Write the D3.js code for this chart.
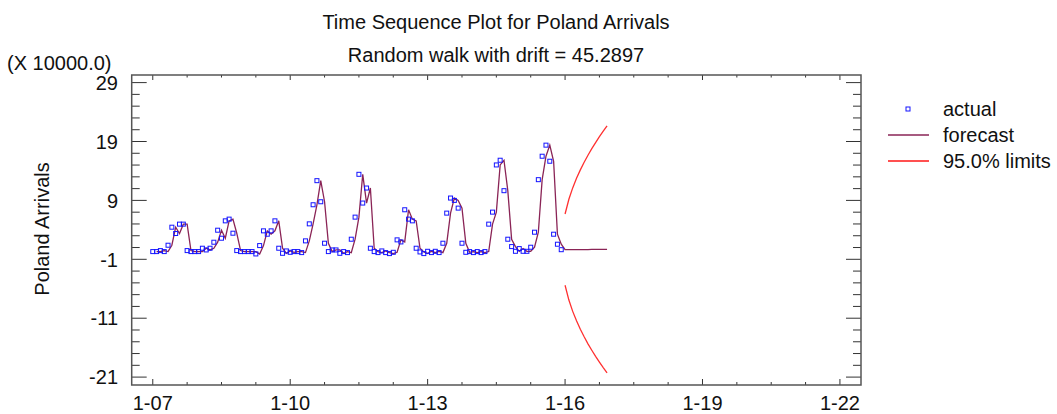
<!DOCTYPE html>
<html>
<head>
<meta charset="utf-8">
<script src="https://cdn.jsdelivr.net/npm/d3@7"></script>
<style>
  body { margin: 0; background: #fff; }
  text { font-family: "Liberation Sans", Arial, sans-serif; fill: #111; }
</style>
</head>
<body>
<div id="chart"></div>
<script>
// monthly values (x 10000), Jan 2007 - Dec 2015
var actual = [
  0.31, 0.31, 0.48, 0.31, 1.39, 4.45, 3.38, 4.97, 4.97, 0.48, 0.31, 0.31,
  0.31, 0.88, 0.59, 0.88, 1.90, 3.94, 2.58, 5.53, 5.82, 3.43, 0.48, 0.31,
  0.31, 0.31, 0.31, -0.09, 1.33, 3.83, 3.26, 3.83, 5.53, 0.88, 0.02, 0.42,
  0.19, 0.31, 0.31, 0.14, 2.13, 5.02, 8.26, 12.35, 8.77, 1.73, 0.31, 0.59,
  0.59, 0.02, 0.31, 0.14, 2.41, 6.16, 13.43, 8.55, 11.10, 0.88, 0.31, 0.14,
  0.42, 0.14, -0.03, 0.19, 2.30, 1.95, 7.41, 5.82, 5.53, 0.88, 0.25, -0.03,
  0.36, 0.14, 0.36, 0.14, 1.73, 6.84, 9.40, 9.00, 7.69, 1.73, 0.19, 0.31,
  0.14, 0.31, 0.14, 0.31, 4.97, 7.01, 15.02, 15.82, 10.65, 2.41, 1.16, 0.36,
  0.82, 0.36, 0.36, 1.05, 3.60, 12.52, 16.50, 18.38, 15.65, 3.26, 1.56, 0.63
];
// one-step forecasts, Feb 2007 - Dec 2016
var forecast = [
  0.31, 0.31, 0.48, 0.31, 1.39, 4.45, 3.38, 4.97, 4.97, 0.48, 0.31,
  0.31, 0.31, 0.88, 0.59, 0.88, 1.90, 3.94, 2.58, 5.53, 5.82, 3.43, 0.48, 0.31,
  0.31, 0.31, 0.31, -0.09, 1.33, 3.83, 3.26, 3.83, 5.53, 0.88, 0.02, 0.42,
  0.19, 0.31, 0.31, 0.14, 2.13, 5.02, 8.26, 12.35, 8.77, 1.73, 0.31, 0.59,
  0.59, 0.02, 0.31, 0.14, 2.41, 6.16, 13.43, 8.55, 11.10, 0.88, 0.31, 0.14,
  0.42, 0.14, -0.03, 0.19, 2.30, 1.95, 7.41, 5.82, 5.53, 0.88, 0.25, -0.03,
  0.36, 0.14, 0.36, 0.14, 1.73, 6.84, 9.40, 9.00, 7.69, 1.73, 0.19, 0.31,
  0.14, 0.31, 0.14, 0.31, 4.97, 7.01, 15.02, 15.82, 10.65, 2.41, 1.16, 0.36,
  0.82, 0.36, 0.36, 1.05, 3.60, 12.52, 16.50, 18.38, 15.65, 3.26, 1.56,
  0.63, 0.64, 0.64, 0.65, 0.65, 0.66, 0.66, 0.67, 0.67, 0.68, 0.68, 0.68
];
// 95% limits, Jan 2016 - Dec 2016
var upper = [6.69, 9.20, 11.12, 12.75, 14.18, 15.48, 16.67, 17.78, 18.82, 19.81, 20.75, 21.65];
var lower = [-5.41, -7.92, -9.84, -11.45, -12.88, -14.16, -15.35, -16.44, -17.48, -18.45, -19.39, -20.27];

var yTicks = [29, 19, 9, -1, -11, -21];
var xTickYears = [2007, 2010, 2013, 2016, 2019, 2022];
var xTickLabels = ["1-07", "1-10", "1-13", "1-16", "1-19", "1-22"];

var startYear = 2007;
function monthX(i) { return startYear + i / 12; }

var W = 1057, H = 414;
var plot = {left: 131.7, right: 861, top: 75, bottom: 385};

var svg = d3.select("#chart").append("svg")
    .attr("width", W).attr("height", H);

var x = d3.scaleLinear().domain([2006.54, 2022.46]).range([plot.left, plot.right]);
var y = d3.scaleLinear().domain([-22.34, 30.29]).range([plot.bottom, plot.top]);

var fs = 20;

// titles
svg.append("text").attr("x", 496).attr("y", 29).attr("text-anchor", "middle")
    .style("font-size", fs + "px").text("Time Sequence Plot for Poland Arrivals");
svg.append("text").attr("x", 496).attr("y", 62).attr("text-anchor", "middle")
    .style("font-size", fs + "px").text("Random walk with drift = 45.2897");
svg.append("text").attr("x", 7).attr("y", 70)
    .style("font-size", fs + "px").text("(X 10000.0)");
svg.append("text")
    .attr("transform", "translate(49," + 229 + ") rotate(-90)")
    .attr("text-anchor", "middle")
    .style("font-size", fs + "px").text("Poland Arrivals");

// ticks (inside, on all four sides)
var yMinor = d3.range(-21, 30, 2).filter(d => yTicks.indexOf(d) < 0);
var xMinor = d3.range(2007, 2022.01, 0.75).filter(d => xTickYears.indexOf(d) < 0);
var tickG = svg.append("g").attr("stroke", "#333").attr("stroke-width", 1);

function yTick(v, len) {
  tickG.append("line").attr("x1", plot.left).attr("x2", plot.left + len)
      .attr("y1", y(v)).attr("y2", y(v));
  tickG.append("line").attr("x1", plot.right).attr("x2", plot.right - len)
      .attr("y1", y(v)).attr("y2", y(v));
}
function xTick(v, lenB, lenT) {
  tickG.append("line").attr("x1", x(v)).attr("x2", x(v))
      .attr("y1", plot.bottom).attr("y2", plot.bottom - lenB);
  tickG.append("line").attr("x1", x(v)).attr("x2", x(v))
      .attr("y1", plot.top).attr("y2", plot.top + lenT);
}
yTicks.forEach(v => yTick(v, 15));
yMinor.forEach(v => yTick(v, 8));
xTickYears.forEach(v => xTick(v, 6, 5));
xMinor.forEach(v => xTick(v, 3, 2.5));

// tick labels
svg.append("g").selectAll("text").data(yTicks).join("text")
    .attr("x", 118).attr("y", d => y(d)).attr("dy", "0.36em")
    .attr("text-anchor", "end").style("font-size", fs + "px")
    .text(d => d);
svg.append("g").selectAll("text").data(xTickYears).join("text")
    .attr("x", d => x(d)).attr("y", 410)
    .attr("text-anchor", "middle").style("font-size", fs + "px")
    .text((d, i) => xTickLabels[i]);

// frame
svg.append("rect")
    .attr("x", plot.left).attr("y", plot.top)
    .attr("width", plot.right - plot.left).attr("height", plot.bottom - plot.top)
    .attr("fill", "none").attr("stroke", "#555").attr("stroke-width", 1.5);

// forecast line
var line = d3.line().x(d => x(d.t)).y(d => y(d.v));
var fData = forecast.map((v, i) => ({t: monthX(i + 1), v: v}));
svg.append("path").datum(fData)
    .attr("fill", "none").attr("stroke", "#8a2456").attr("stroke-width", 1.3)
    .attr("d", line);

// limits
var limStart = actual.length;
[upper, lower].forEach(arr => {
  svg.append("path").datum(arr.map((v, i) => ({t: monthX(limStart + i), v: v})))
      .attr("fill", "none").attr("stroke", "#ff3030").attr("stroke-width", 1.3)
      .attr("d", line);
});

// actual points
svg.append("g").selectAll("rect").data(actual).join("rect")
    .attr("x", (d, i) => x(monthX(i)) - 2).attr("y", d => y(d) - 2)
    .attr("width", 4).attr("height", 4)
    .attr("fill", "none").attr("stroke", "#1414ff").attr("stroke-width", 1);

// legend
var lg = svg.append("g");
lg.append("rect").attr("x", 906).attr("y", 107).attr("width", 4).attr("height", 4)
    .attr("fill", "none").attr("stroke", "#1414ff").attr("stroke-width", 1);
lg.append("line").attr("x1", 888).attr("x2", 929).attr("y1", 135).attr("y2", 135)
    .attr("stroke", "#8a2456").attr("stroke-width", 1.3);
lg.append("line").attr("x1", 888).attr("x2", 929).attr("y1", 161).attr("y2", 161)
    .attr("stroke", "#ff5050").attr("stroke-width", 2);
["actual", "forecast", "95.0% limits"].forEach((t, i) => {
  lg.append("text").attr("x", 943).attr("y", [109, 135, 161][i]).attr("dy", "0.36em")
      .style("font-size", fs + "px").text(t);
});
</script>
</body>
</html>
